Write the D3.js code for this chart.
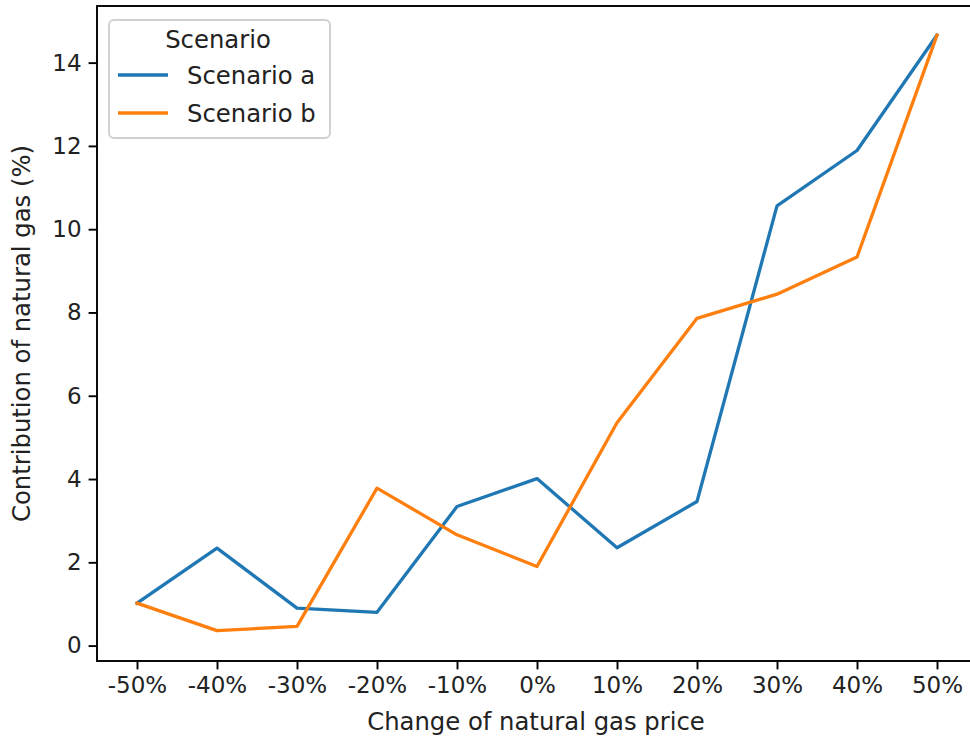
<!DOCTYPE html>
<html>
<head>
<meta charset="utf-8">
<script src="https://cdn.jsdelivr.net/npm/d3@7"></script>
<style>
  html, body { margin: 0; padding: 0; background: #fff; }
  svg { display: block; font-family: "DejaVu Sans", sans-serif; }
</style>
</head>
<body>
<svg id="chart" width="970" height="740"></svg>
<script>
const categories = ["-50%", "-40%", "-30%", "-20%", "-10%", "0%", "10%", "20%", "30%", "40%", "50%"];
const scenarioA = [1.02, 2.34, 0.90, 0.80, 3.34, 4.01, 2.35, 3.46, 10.56, 11.89, 14.66];
const scenarioB = [1.02, 0.36, 0.46, 3.78, 2.66, 1.90, 5.35, 7.86, 8.44, 9.33, 14.66];
const seriesNames = ["Scenario a", "Scenario b"];
const yTicks = [0, 2, 4, 6, 8, 10, 12, 14];
const legendTitle = "Scenario";
const xTitle = "Change of natural gas price";
const yTitle = "Contribution of natural gas (%)";

const colors = ["#1f77b4", "#ff7f0e"];
const series = [scenarioA, scenarioB];

const svg = d3.select("#chart");
const pLeft = 97, pRight = 977, pTop = 6, pBottom = 661;
const fsTick = 23;
const fs = 24.3;

const x = d3.scalePoint().domain(categories).range([pLeft, pRight]).padding(0.5);
const y = d3.scaleLinear().domain([-0.37, 15.36]).range([pBottom, pTop]);

// lines
const line = d3.line().x((d, i) => x(categories[i])).y(d => y(d));
series.forEach((s, k) => {
  svg.append("path")
    .datum(s)
    .attr("d", line)
    .attr("fill", "none")
    .attr("stroke", colors[k])
    .attr("stroke-width", 3.3)
    .attr("stroke-linejoin", "round")
    .attr("stroke-linecap", "square");
});

// axes
const xAxis = d3.axisBottom(x).tickSize(8.4).tickPadding(7);
const gx = svg.append("g").attr("transform", `translate(0,${pBottom})`).call(xAxis);
const yAxis = d3.axisLeft(y).tickValues(yTicks).tickSize(8.4).tickPadding(7).tickFormat(d3.format("d"));
const gy = svg.append("g").attr("transform", `translate(${pLeft},0)`).call(yAxis);
[gx, gy].forEach(g => {
  g.select(".domain").remove();
  g.selectAll(".tick line").attr("stroke", "#000").attr("stroke-width", 1.9);
  g.selectAll(".tick text").attr("fill", "#222").attr("font-size", fsTick).attr("font-family", "DejaVu Sans");
});

// frame
svg.append("rect")
  .attr("x", pLeft).attr("y", pTop)
  .attr("width", pRight - pLeft).attr("height", pBottom - pTop)
  .attr("fill", "none").attr("stroke", "#000").attr("stroke-width", 1.9);

// axis titles
svg.append("text")
  .attr("x", 536).attr("y", 730)
  .attr("text-anchor", "middle").attr("font-size", fs).attr("fill", "#222")
  .text(xTitle);
svg.append("text")
  .attr("transform", `translate(30,${(pTop + pBottom) / 2}) rotate(-90)`)
  .attr("text-anchor", "middle").attr("font-size", fs).attr("fill", "#222")
  .text(yTitle);

// legend
const lg = svg.append("g");
lg.append("rect")
  .attr("x", 109).attr("y", 20).attr("width", 221).attr("height", 118)
  .attr("rx", 5).attr("ry", 5)
  .attr("fill", "#fff").attr("fill-opacity", 0.8)
  .attr("stroke", "#d0d0d0").attr("stroke-width", 1.9);
lg.append("text")
  .attr("x", 218).attr("y", 47.5)
  .attr("text-anchor", "middle").attr("font-size", fs).attr("fill", "#222")
  .text(legendTitle);
seriesNames.forEach((n, k) => {
  const yy = 75 + k * 38;
  lg.append("line")
    .attr("x1", 118).attr("x2", 168).attr("y1", yy).attr("y2", yy)
    .attr("stroke", colors[k]).attr("stroke-width", 3.3);
  lg.append("text")
    .attr("x", 187).attr("y", yy + 8.5)
    .attr("font-size", fs).attr("fill", "#222")
    .text(n);
});
</script>
</body>
</html>
